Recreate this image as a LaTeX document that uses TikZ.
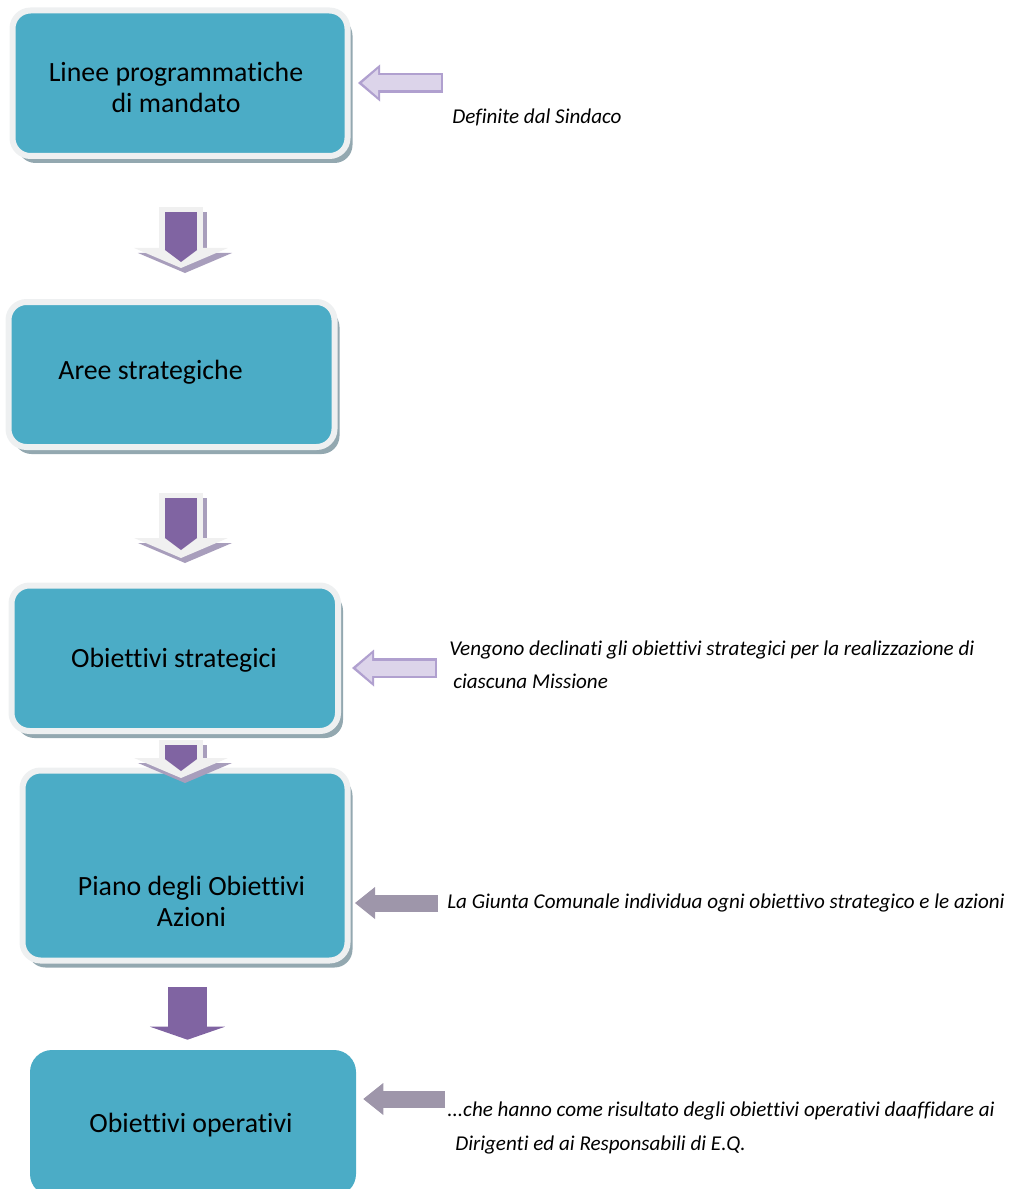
\documentclass[tikz,border=0pt]{standalone}
\usepackage{fontspec}
\setmainfont{Carlito}[Ligatures={NoCommon}]
\usepackage{tikz}
\usetikzlibrary{arrows.meta,positioning,calc,shadows}
\newdimen\px
\px=0.025cm
\definecolor{boxteal}{HTML}{4BACC6}
\definecolor{glowgrey}{HTML}{EEF0F1}
\definecolor{shadowgrey}{HTML}{93A8B0}
\definecolor{flowpurple}{HTML}{8064A2}
\definecolor{glowwhite}{HTML}{F0F0F0}
\definecolor{arrowshadow}{HTML}{A89EBC}
\definecolor{hintline}{HTML}{B0A0CF}
\definecolor{hintfill}{HTML}{DCD4EA}
\definecolor{cuegrey}{HTML}{9E96AA}
\tikzset{>=latex}
\tikzstyle{box}  = [rectangle,
                    rounded corners=18\px,
                    fill=boxteal,
                    draw=glowgrey,
                    line width=6\px,
                    drop shadow={shadow xshift=5\px,
                                 shadow yshift=-7\px,
                                 fill=shadowgrey,
                                 opacity=1}
                   ]
\tikzstyle{boxplain} = [rectangle,
                        rounded corners=22\px,
                        fill=boxteal
                       ]
\tikzstyle{boxtext} = [font=\fontsize{19.8}{22}\selectfont,
                       align=center,
                       inner sep=0pt
                      ]
\tikzstyle{note} = [font=\fontsize{15}{23.7}\selectfont\itshape,
                    anchor=west,
                    align=left,
                    inner sep=0pt
                   ]
% tip sizes in cm (1px = 0.025cm)
\tikzstyle{glowshadow} = [line width=44\px,
                          draw=arrowshadow,
                          transform canvas={xshift=4\px, yshift=-5\px},
                          -{Triangle[length=0.5cm, width=2.35cm, line width=0pt]}]
\tikzstyle{glow} = [line width=44\px,
                    draw=glowwhite,
                    -{Triangle[length=0.5cm, width=2.35cm, line width=0pt]}]
\tikzstyle{flow} = [line width=32\px,
                    draw=flowpurple,
                    -{Triangle[length=0.3cm, width=0.8cm, line width=0pt]}]
\tikzstyle{flowbig} = [line width=39\px,
                       draw=flowpurple,
                       -{Triangle[length=0.325cm, width=1.875cm, line width=0pt]}]
\tikzstyle{hintedge} = [line width=20\px,
                        draw=hintline,
                        -{Triangle[length=0.55cm, width=0.925cm, line width=0pt]}]
\tikzstyle{hintfill} = [line width=15\px,
                        draw=hintfill,
                        shorten <=2.5\px,
                        -{Triangle[length=0.4cm, width=0.7cm, line width=0pt]}]
\tikzstyle{cue} = [line width=17\px,
                   draw=cuegrey,
                   -{Triangle[length=0.5cm, width=0.8cm, line width=0pt]}]

\begin{document}
\begin{tikzpicture}[x=0.025cm, y=-0.025cm]
  \clip (0,0) rectangle (1008,1189);

  % Nodes
  \node[box, minimum width=335\px, minimum height=145.5\px] (linee) at (180,83.25) {};
  \node[box, minimum width=326\px, minimum height=145\px] (aree) at (171.5,374.5) {};
  \node[box, minimum width=326.5\px, minimum height=145.5\px] (strat) at (174.75,658.25) {};
  \node[box, minimum width=325\px, minimum height=190\px] (piano) at (185,865.5) {};
  \node[boxplain, minimum width=326\px, minimum height=146\px] (oper) at (193,1123) {};

  \node[boxtext] (lineeText) at ($(linee)+(-4,4.25)$) {Linee programmatiche\\di mandato};
  \node[boxtext] (areeText) at ($(aree)+(-21,-2.5)$) {Aree strategiche};
  \node[boxtext] (stratText) at ($(strat)+(-0.75,1.75)$) {Obiettivi strategici};
  \node[boxtext] (pianoText) at ($(piano)+(6.5,35.5)$) {Piano degli Obiettivi\\Azioni};
  \node[boxtext] (operText) at ($(oper)+(-2,2)$) {Obiettivi operativi};

  \coordinate (axis) at (181,0);
  \coordinate (axisb) at (187.5,0);
  \coordinate (c1) at (443,83);
  \coordinate (c3) at (437,668);
  \coordinate (c4) at (438,903);
  \coordinate (c5) at (445,1099);

  \node[note] (sindaco) at (452,117) {Definite dal Sindaco};
  \node[note] (missione) at (449,664.5)
    {Vengono declinati gli obiettivi strategici per la realizzazione di\\\hspace*{4\px}ciascuna Missione};
  \node[note, right=9\px of c4] (giunta)
    {La Giunta Comunale individua ogni obiettivo strategico e le azioni};
  \node[note] (dirigenti) at (447,1128)
    {...che hanno come risultato degli obiettivi operativi daaffidare ai\\\hspace*{8\px}Dirigenti ed ai Responsabili di E.Q.};

  % Edges
  \draw[glowshadow, shorten <=48\px, shorten >=31\px] (linee.south -| axis) -- (aree.north -| axis);
  \draw[glow, shorten <=48\px, shorten >=31\px] (linee.south -| axis) -- (aree.north -| axis);
  \draw[flow, shorten <=53\px, shorten >=37\px] (linee.south -| axis) -- (aree.north -| axis);

  \draw[glowshadow, shorten <=43\px, shorten >=24.5\px] (aree.south -| axis) -- (strat.north -| axis);
  \draw[glow, shorten <=43\px, shorten >=24.5\px] (aree.south -| axis) -- (strat.north -| axis);
  \draw[flow, shorten <=48\px, shorten >=32.5\px] (aree.south -| axis) -- (strat.north -| axis);

  \draw[glowshadow, shorten <=6\px, shorten >=-10.5\px] (strat.south -| axis) -- (piano.north -| axis);
  \draw[glow, shorten <=6\px, shorten >=-10.5\px] (strat.south -| axis) -- (piano.north -| axis);
  \draw[flow, shorten <=11\px, shorten >=-3.5\px] (strat.south -| axis) -- (piano.north -| axis);

  \draw[flowbig, shorten <=23.5\px, shorten >=10\px] (piano.south -| axisb) -- (oper.north -| axisb);

  \draw[hintedge, shorten >=7.5\px] (c1) -- (c1 -| linee.east);
  \draw[hintfill, shorten >=11.5\px] (c1) -- (c1 -| linee.east);
  \draw[hintedge, shorten >=11\px] (c3) -- (c3 -| strat.east);
  \draw[hintfill, shorten >=15\px] (c3) -- (c3 -| strat.east);
  \draw[cue, shorten >=4.5\px] (c4) -- (c4 -| piano.east);
  \draw[cue, shorten >=7\px] (c5) -- (c5 -| oper.east);

\end{tikzpicture}
\end{document}
